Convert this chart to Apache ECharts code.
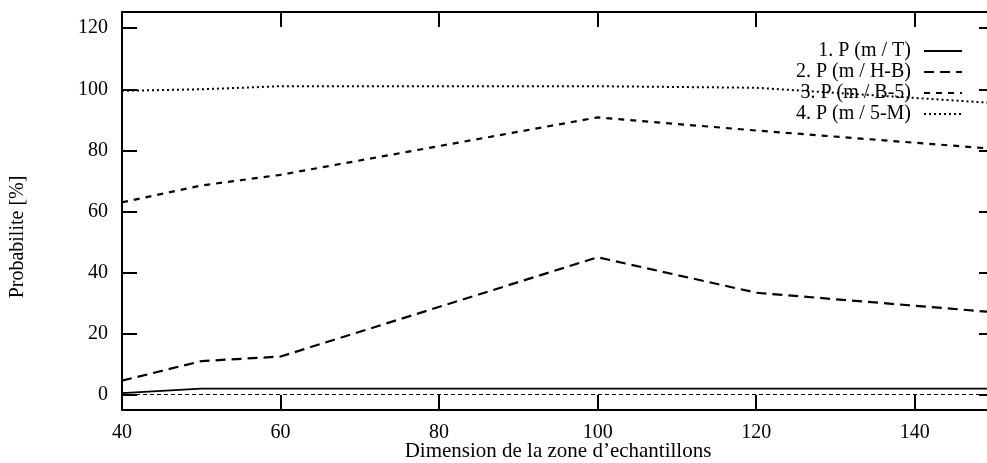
<!DOCTYPE html>
<html>
<head>
<meta charset="utf-8">
<script src="https://cdn.jsdelivr.net/npm/echarts@6/dist/echarts.min.js"></script>
<style>
html,body{margin:0;padding:0;background:#fff;}
#c{width:987px;height:463px;}
</style>
</head>
<body>
<div id="c"></div>
<script>
const xValues = [40, 50, 60, 100, 120, 150];
const seriesNames = ['1. P (m / T)', '2. P (m / H-B)', '3. P (m / B-5)', '4. P (m / 5-M)'];
const s1 = [0.5, 2, 2, 2, 2, 2];
const s2 = [4.6, 11, 12.5, 45, 33.4, 27];
const s3 = [63, 68.5, 72, 90.8, 86.5, 80.5];
const s4 = [99.5, 100, 101, 101, 100.5, 95.5];
const xTicks = [40, 60, 80, 100, 120, 140];
const yTicks = [0, 20, 40, 60, 80, 100, 120];
const xTitle = 'Dimension de la zone d\u2019echantillons';
const yTitle = 'Probabilite [%]';

const FONT = '"Liberation Serif", "DejaVu Serif", serif';
const pair = (vals) => xValues.map((x, i) => [x, vals[i]]);

const chart = echarts.init(document.getElementById('c'));
const axisLineStyle = {color: '#000', width: 2};
const tickStyle = {color: '#000', width: 2};

chart.setOption({
  animation: false,
  backgroundColor: '#fff',
  grid: {left: 122, width: 872, top: 12, height: 398, containLabel: false, outerBoundsMode: 'none'},
  legend: {
    orient: 'vertical',
    right: 19,
    top: 36,
    align: 'right',
    itemWidth: 38,
    itemHeight: 12,
    itemGap: 1,
    itemStyle: {opacity: 0},
    textStyle: {fontFamily: FONT, fontSize: 20, color: '#000', lineHeight: 20, padding: [0, 8, 0, 0]},
    data: seriesNames.map(n => ({name: n}))
  },
  graphic: [{
    type: 'text',
    x: 18, y: 237,
    rotation: Math.PI / 2,
    style: {text: yTitle, font: '20px ' + FONT, fill: '#000', align: 'center', verticalAlign: 'middle'}
  }],
  xAxis: [{
    type: 'value', position: 'bottom', min: 40, max: 150,
    name: xTitle, nameLocation: 'middle', nameGap: 31, nameMoveOverlap: false,
    nameTextStyle: {fontFamily: FONT, fontSize: 21, color: '#000'},
    axisLine: {show: true, onZero: false, lineStyle: axisLineStyle},
    axisTick: {show: true, inside: true, length: 15, lineStyle: tickStyle, customValues: xTicks},
    axisLabel: {fontFamily: FONT, fontSize: 20, color: '#000', margin: 13, customValues: xTicks},
    splitLine: {show: false}
  }, {
    type: 'value', position: 'top', min: 40, max: 150,
    axisLine: {show: true, onZero: false, lineStyle: axisLineStyle},
    axisTick: {show: true, inside: true, length: 15, lineStyle: tickStyle, customValues: xTicks},
    axisLabel: {show: false},
    splitLine: {show: false}
  }],
  yAxis: [{
    type: 'value', position: 'left', min: -5, max: 125.3,
    axisLine: {show: true, onZero: false, lineStyle: axisLineStyle},
    axisTick: {show: true, inside: true, length: 15, lineStyle: tickStyle, customValues: yTicks},
    axisLabel: {fontFamily: FONT, fontSize: 20, color: '#000', margin: 14, customValues: yTicks},
    splitLine: {show: false}
  }, {
    type: 'value', position: 'right', min: -5, max: 125.3,
    axisLine: {show: true, onZero: false, lineStyle: axisLineStyle},
    axisTick: {show: true, inside: true, length: 15, lineStyle: tickStyle, customValues: yTicks},
    axisLabel: {show: false},
    splitLine: {show: false}
  }],
  series: [{
    name: seriesNames[0], type: 'line', data: pair(s1), symbol: 'none',
    lineStyle: {color: '#000', width: 1.8, type: 'solid'},
    itemStyle: {color: '#000'},
    markLine: {
      silent: true, symbol: 'none', label: {show: false},
      lineStyle: {color: '#000', width: 1, type: [4, 3]},
      data: [{yAxis: 0}]
    }
  }, {
    name: seriesNames[1], type: 'line', data: pair(s2), symbol: 'none',
    lineStyle: {color: '#000', width: 2.2, type: [10, 6]},
    itemStyle: {color: '#000'}
  }, {
    name: seriesNames[2], type: 'line', data: pair(s3), symbol: 'none',
    lineStyle: {color: '#000', width: 2.2, type: [6, 6]},
    itemStyle: {color: '#000'}
  }, {
    name: seriesNames[3], type: 'line', data: pair(s4), symbol: 'none',
    lineStyle: {color: '#000', width: 2, type: [2, 3]},
    itemStyle: {color: '#000'}
  }]
});
</script>
</body>
</html>
